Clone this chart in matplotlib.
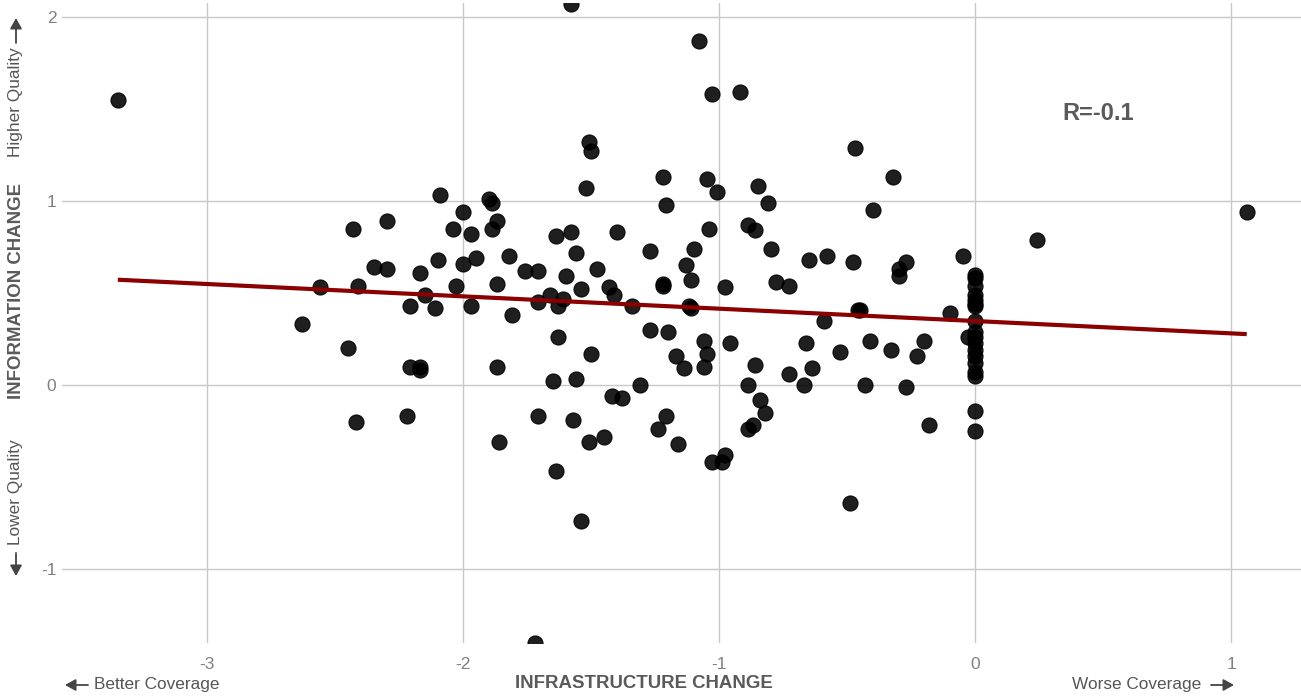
import numpy as np
import matplotlib
matplotlib.use("Agg")
import matplotlib.pyplot as plt
from matplotlib.patches import FancyArrowPatch

plt.rcParams['font.family'] = ['Liberation Sans', 'DejaVu Sans']

# ---- data ----
infra_change = [
    -3.35, 1.06, 0.24, -1.58, -1.08, -1.03, -0.92, -1.72, -2.09, -2.43,
    -2.30, -2.35, -2.30, -2.17, -2.10, -2.56, -2.41, -2.15, -2.21, -2.11,
    -2.63, -2.45, -2.21, -2.17, -2.17, -2.42, -2.22, -1.51, -1.50, -1.52,
    -0.47, -2.00, -2.04, -1.97, -1.90, -1.89, -1.87, -1.89, -2.00, -1.95,
    -2.03, -1.97, -1.87, -1.82, -1.81, -1.76, -1.71, -1.64, -1.58, -1.56,
    -1.60, -1.48, -1.54, -1.66, -1.71, -1.61, -1.63, -1.40, -1.43, -1.41,
    -1.34, -1.63, -1.50, -1.27, -1.22, -1.21, -1.13, -1.10, -1.11, -1.22,
    -1.22, -1.12, -1.11, -1.27, -1.20, -1.06, -0.96, -1.05, -1.01, -1.04,
    -0.98, -0.85, -0.81, -0.89, -0.86, -0.80, -0.78, -0.73, -0.65, -0.58,
    -0.48, -0.59, -0.66, -0.53, -0.32, -0.40, -0.27, -0.30, -0.30, -0.05,
    -0.46, -0.45, -0.10, -0.41, -0.33, -0.20, -0.23, -0.03, -0.43, -0.27,
    -0.18, -0.49, -0.86, -1.17, -1.14, -1.05, -1.06, -1.65, -1.56, -1.31,
    -1.42, -1.38, -0.89, -0.84, -1.71, -1.57, -1.21, -1.24, -1.51, -1.45,
    -1.16, -0.87, -0.89, -0.82, -1.64, -1.03, -0.99, -0.98, -1.87, -1.86,
    -1.54, -0.73, -0.64, -0.67,
    0.0, 0.0, 0.0, 0.0, 0.0, 0.0, 0.0, 0.0, 0.0, 0.0,
    0.0, 0.0, 0.0, 0.0, 0.0, 0.0, 0.0, 0.0,
]
info_change = [
    1.55, 0.94, 0.79, 2.07, 1.87, 1.58, 1.59, -1.40, 1.03, 0.85,
    0.89, 0.64, 0.63, 0.61, 0.68, 0.53, 0.54, 0.49, 0.43, 0.42,
    0.33, 0.20, 0.10, 0.10, 0.08, -0.20, -0.17, 1.32, 1.27, 1.07,
    1.29, 0.94, 0.85, 0.82, 1.01, 0.99, 0.89, 0.85, 0.66, 0.69,
    0.54, 0.43, 0.55, 0.70, 0.38, 0.62, 0.62, 0.81, 0.83, 0.72,
    0.59, 0.63, 0.52, 0.49, 0.45, 0.47, 0.43, 0.83, 0.53, 0.49,
    0.43, 0.26, 0.17, 0.73, 1.13, 0.98, 0.65, 0.74, 0.57, 0.55,
    0.54, 0.43, 0.42, 0.30, 0.29, 0.24, 0.23, 1.12, 1.05, 0.85,
    0.53, 1.08, 0.99, 0.87, 0.84, 0.74, 0.56, 0.54, 0.68, 0.70,
    0.67, 0.35, 0.23, 0.18, 1.13, 0.95, 0.67, 0.63, 0.59, 0.70,
    0.41, 0.41, 0.39, 0.24, 0.19, 0.24, 0.16, 0.26, 0.00, -0.01,
    -0.22, -0.64, 0.11, 0.16, 0.09, 0.17, 0.10, 0.02, 0.03, 0.00,
    -0.06, -0.07, 0.00, -0.08, -0.17, -0.19, -0.17, -0.24, -0.31, -0.28,
    -0.32, -0.22, -0.24, -0.15, -0.47, -0.42, -0.42, -0.38, 0.10, -0.31,
    -0.74, 0.06, 0.09, 0.00,
    0.60, 0.58, 0.54, 0.49, 0.46, 0.44, 0.43, 0.35, 0.29, 0.26,
    0.23, 0.19, 0.16, 0.12, 0.07, 0.05, -0.14, -0.25,
]
x_ticks = [-3, -2, -1, 0, 1]
y_ticks = [-1, 0, 1, 2]
r_label = "R=-0.1"

W, H = 1301, 697
fig = plt.figure(figsize=(W / 100, H / 100), dpi=100)
ax = fig.add_axes([62 / W, 1 - 643 / H, (1301 - 62) / W, (643 - 3) / H])

x = np.array(infra_change)
y = np.array(info_change)

ax.scatter(x, y, s=118, facecolor='#000000', edgecolor='#000000',
           linewidths=0.8, alpha=0.88, zorder=3)

slope, intercept = np.polyfit(x, y, 1)
xl = np.array([x.min(), x.max()])
ax.plot(xl, intercept + slope * xl, color='#8b0000', lw=3.0,
        solid_capstyle='butt', zorder=4)

ax.set_xlim(-3.568, 1.272)
ax.set_ylim(-1.402, 2.076)
ax.set_xticks(x_ticks)
ax.set_yticks(y_ticks)
ax.set_xticklabels([str(t) for t in x_ticks])
ax.set_yticklabels([str(t) for t in y_ticks])
ax.grid(True, color='#c8c8c8', lw=1.0)
ax.set_axisbelow(True)
for s in ax.spines.values():
    s.set_visible(False)
ax.tick_params(axis='both', length=0, labelsize=12.5, labelcolor='#808080')
ax.tick_params(axis='x', pad=10)
ax.tick_params(axis='y', pad=4)

def fx(px):
    return px / W

def fy(py):
    return 1 - py / H

title_col = '#5a5a5a'
fig.text(fx(644), fy(683), "INFRASTRUCTURE CHANGE", ha='center', va='center',
         fontsize=13.4, fontweight='bold', color=title_col)
fig.text(fx(17), fy(291), "INFORMATION CHANGE", ha='center', va='center',
         rotation=90, fontsize=13.4, fontweight='bold', color=title_col)

side_col = '#555555'
fig.text(fx(94), fy(685), "Better Coverage", ha='left', va='center',
         fontsize=12.4, color=side_col)
fig.text(fx(1201), fy(685), "Worse Coverage", ha='right', va='center',
         fontsize=12.4, color=side_col)
fig.text(fx(16), fy(102), "Higher Quality", ha='center', va='center',
         rotation=90, fontsize=12.4, color=side_col)
fig.text(fx(16), fy(492), "Lower Quality", ha='center', va='center',
         rotation=90, fontsize=12.4, color=side_col)

def arrow(p0, p1):
    a = FancyArrowPatch((fx(p0[0]), fy(p0[1])), (fx(p1[0]), fy(p1[1])),
                        transform=fig.transFigure,
                        arrowstyle='-|>,head_length=0.45,head_width=0.25',
                        mutation_scale=14, color='#444444', lw=1.3,
                        shrinkA=0, shrinkB=0)
    fig.add_artist(a)

arrow((88, 685), (65, 685))
arrow((1211, 685), (1234, 685))
arrow((16, 43), (16, 18))
arrow((16, 553), (16, 576))

ax.text(0.48, 1.475, r_label, ha='center', va='center', fontsize=17,
        fontweight='bold', color='#5a5a5a')

fig.savefig('out.png', dpi=100)
